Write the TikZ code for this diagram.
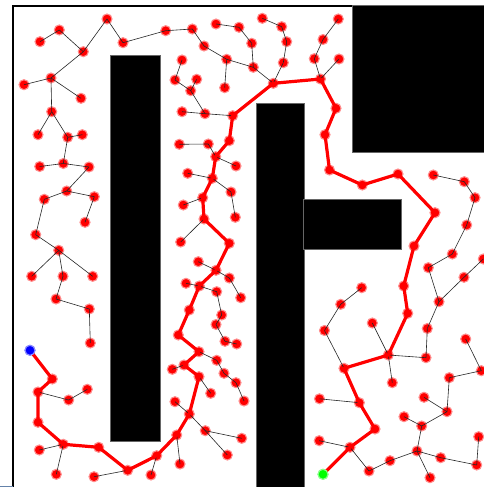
\documentclass[tikz,border=0pt]{standalone}
\begin{document}
\begin{tikzpicture}[x=1pt,y=-1pt,
  pt/.style={circle,fill=red,draw=red!45,line width=1.1pt,minimum size=10pt,inner sep=0pt},
  startpt/.style={circle,fill=blue,draw=blue!45,line width=1.1pt,minimum size=10pt,inner sep=0pt},
  goalpt/.style={circle,fill=green,draw=green!45,line width=1.1pt,minimum size=10pt,inner sep=0pt},
  edge/.style={draw=black!85,line width=0.6pt},
  pathline/.style={draw=red,line width=3.2pt,line join=round,line cap=round},
  obst/.style={fill=black,draw=black!60,line width=0.6pt}]
\useasboundingbox (0,0) rectangle (484,487);
\fill[white] (0,0) rectangle (484,487);
% obstacles
\filldraw[obst] (110,55) rectangle (160,441);
\filldraw[obst] (256,103) rectangle (304,487);
\filldraw[obst] (303,199) rectangle (401,249);
\filldraw[obst] (352,5) rectangle (484,152);
% border
\draw[line width=1.6pt] (13,487) -- (13,6) -- (352,6);
\draw[line width=1pt,draw={rgb,255:red,100;green,130;blue,170}] (0,486) -- (13,486);
% nodes
\foreach \n/\x/\y in {a1/40/41.7,a2/59.3/30,a3/107/19,a4/123/42.7,a5/165.7/30.7,a6/83.3/51.7,a7/51/78,a8/24/84.7,a9/81/98.3,a10/51.7/111.7,a11/38/134.7,a12/67.7/137.3,a13/82.3/134.7,a14/39.7/166.5,a15/63.3/163.5,a16/89/167,
b1/66.7/191,b2/44.3/199.3,b3/94.3/196.7,b4/85/222.3,b5/35.7/234.7,b6/58.7/250.3,b7/31.7/276.3,b8/63/276.3,b9/92.7/276.3,b10/56/299,b11/89.3/309,
c1/90.3/343,c2/52.3/379,c3/38/392,c4/68.7/400,c5/87.3/389.3,c6/38/422.3,c7/63.3/444.3,c8/39.3/450,c9/56.3/474.3,c10/98.7/447.3,c11/127.7/470.3,c12/94/476.7,c13/156.7/455.7,c14/151/475,
d1/216/324.5,d2/178.3/335,d3/225/341.3,d4/236.7/344,d5/199/351.7,d6/216.7/360.3,d7/184/365,d8/172.3/369.3,d9/224/373.3,d10/199/376.7,d11/236/382.7,d12/210.7/393.3,d13/244/401,d14/175/401.7,d15/189.3/414,d16/205.3/430.7,d17/241.7/438.3,d18/176.7/435,d19/227.3/455,d20/180/464,
e1/236/166,e2/187.7/173.3,e3/212.3/178.3,e4/231/192,e5/202.7/197.7,e6/183.3/205,e7/235.3/217.3,e8/204/219,e9/180.7/242,e10/229.3/243.3,e11/198.3/261.7,e12/216/270.3,e13/229.3/278,e14/186/283.3,e15/199.3/286,e16/216.7/291.7,e17/240.7/297.7,e18/189.3/310,e19/221.7/315,
f2/192.3/29,f3/216/24,f4/239/27.3,f5/262.3/18.3,f6/281.7/26.7,f7/204/46,f8/251.7/43.3,f9/286.7/41.7,f10/323/39.5,f11/182/60,f12/226.7/59.3,f13/253.3/67.3,f14/283.3/62.7,f15/314.3/58.7,f16/175/80,f17/196.7/79.3,f18/273.3/83.3,f19/320.5/79,f20/224.7/87.7,f21/190.7/90.7,f22/182/111.7,f23/205/113.7,f24/232.7/115.7,f25/325/134.7,f26/179.3/144.3,f27/208.3/144,f28/229.3/140.7,f29/215.7/156.7,
g1/338.3/19,g3/339/59,g5/336/108.3,g7/329.5/170,
h2/362.3/185,h3/398/174,h4/433.3/175,h5/464.3/181.7,h6/475/197.7,h7/435/212.7,h8/466.7/225,h9/414/246,h10/452.3/254,h11/428.3/267.7,h12/483.3/259,h13/403.7/286,h14/464/277.3,h15/361.7/287.7,h16/340.7/304.3,h17/439/301.7,h18/407.7/313.3,
i1/324.5/330.5,i2/372.3/323,i3/427.3/328.5,i4/465.7/339,i5/388.3/355,i6/426/357.7,i7/344/368.3,i8/481.3/370.7,i9/449.3/377.7,i10/392.3/382.7,i11/424/397.3,i12/319.5/398.8,i13/359.3/402.7,i14/447/411.7,i15/404/416.7,i16/421.7/426,i17/375/429,i18/478.7/436.7,i19/319.2/440.7,i20/350/447.3,i21/417/451,i22/440.7/457.7,i23/390/460.7,i24/476.7/465,i25/369/471,i26/430/477.7}
  {\node[pt] (\n) at (\x,\y) {};}
\node[startpt] (s) at (30,350.3) {};
\node[goalpt] (g) at (323,474.3) {};
% tree edges
\foreach \u/\v in {a1/a2,a2/a6,a6/a3,a3/a4,a4/a5,a5/f2,a6/a7,a7/a8,a7/a9,a7/a10,a10/a11,a10/a12,a12/a13,a12/a15,a15/a14,a15/a16,a16/b1,b1/b2,b1/b3,b3/b4,b2/b5,b5/b6,b6/b7,b6/b8,b6/b9,b8/b10,b10/b11,b11/c1,
c3/c4,c4/c5,c7/c8,c7/c9,c11/c12,c13/c14,
d1/d3,d3/d4,d5/d6,d6/d9,d9/d11,d11/d13,d7/d8,d10/d12,d14/d15,d15/d16,d16/d17,d16/d19,d18/d20,
e1/f29,e2/e3,e3/e4,e4/e7,e5/e6,e8/e9,e11/e12,e12/e13,e13/e17,e14/e15,e15/e16,e16/e19,e19/d1,
f2/f7,f7/f12,f12/f13,f12/f20,f3/f4,f4/f8,f8/f13,f13/f18,f5/f6,f6/f9,f9/f14,f14/f18,f10/f15,f15/f19,f10/g1,f19/g3,f11/f16,f16/f21,f17/f21,f21/f23,f22/f23,f23/f24,f26/f27,f27/f29,
h4/h5,h5/h6,h6/h8,h8/h10,h10/h11,h11/h17,h12/h14,h14/h17,h17/i3,h15/h16,h16/i1,
i1/i7,i2/i5,i5/i6,i6/i3,i5/i10,i4/i8,i8/i9,i9/i14,i11/i14,i14/i16,i15/i16,i16/i21,i21/i22,i22/i24,i24/i18,i21/i26,i21/i23,i23/i25,i25/i20,i19/i20,i12/i13}
  {\draw[edge] (\u.center) -- (\v.center);}
% solution path
\draw[pathline] (s.center) -- (c2.center) -- (c3.center) -- (c6.center) -- (c7.center) -- (c10.center) -- (c11.center) -- (c13.center) -- (d18.center) -- (d15.center) -- (d10.center) -- (d7.center) -- (d5.center) -- (d2.center) -- (e18.center) -- (e15.center) -- (e12.center) -- (e10.center) -- (e8.center) -- (e5.center) -- (e3.center) -- (f29.center) -- (f28.center) -- (f24.center) -- (f18.center) -- (f19.center) -- (g5.center) -- (f25.center) -- (g7.center) -- (h2.center) -- (h3.center) -- (h7.center) -- (h9.center) -- (h13.center) -- (h18.center) -- (i5.center) -- (i7.center) -- (i13.center) -- (i17.center) -- (i20.center) -- (g.center);
\node[startpt] at (s) {};
\node[goalpt] at (g) {};
\end{tikzpicture}
\end{document}
